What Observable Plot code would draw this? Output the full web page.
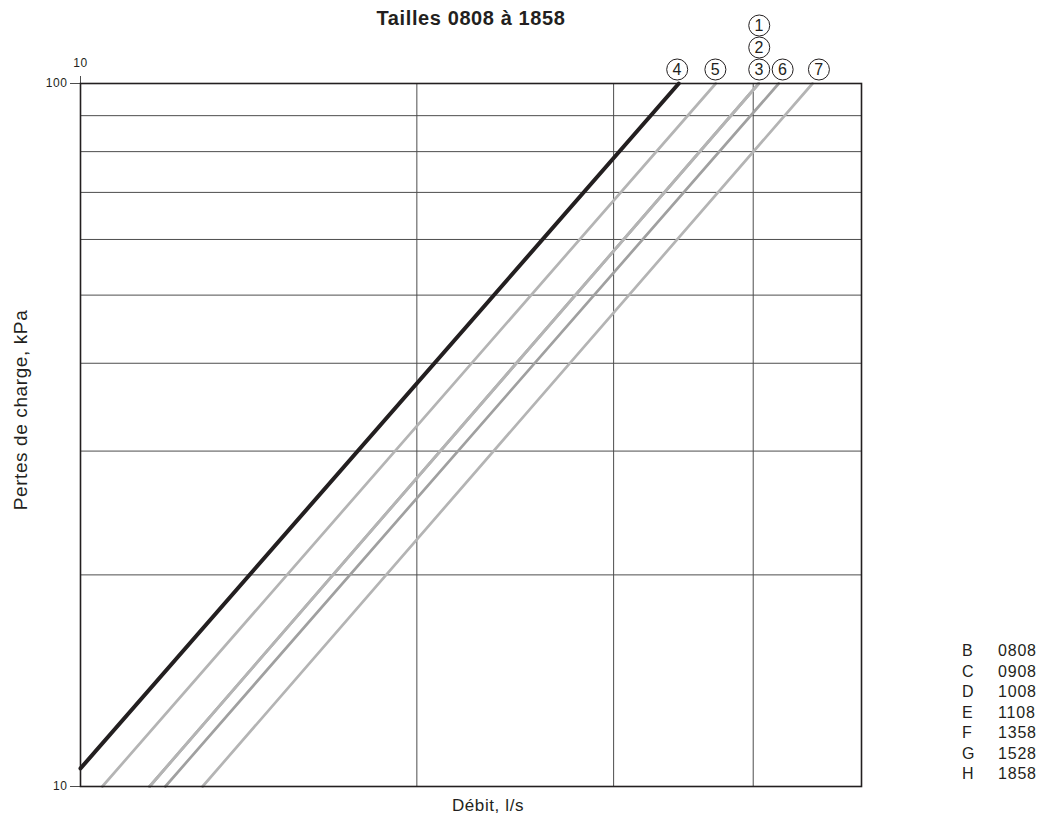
<!DOCTYPE html>
<html>
<head>
<meta charset="utf-8">
<script src="https://cdn.jsdelivr.net/npm/d3@7"></script>
<script src="https://cdn.jsdelivr.net/npm/@observablehq/plot@0.6"></script>
<style>
  html, body { margin: 0; padding: 0; background: #fff; }
  body { width: 1043px; height: 817px; position: relative; overflow: hidden; font-family: "Liberation Sans", Arial, sans-serif; }
  #chart { position: absolute; left: 0; top: 0; }
  #legend { position: absolute; left: 962px; top: 641px; font-size: 16px; letter-spacing: 0.8px; color: #231f20; line-height: 20.5px; }
  #legend .row { display: flex; }
  #legend .k { width: 36px; }
</style>
</head>
<body>
<div id="chart"></div>
<div id="legend"></div>
<script>
// Line identifiers (circled numbers) and endpoints
const lineIds   = ["1", "2", "3", "4", "5", "6", "7"];
const flowLow   = [11.53, 11.53, 11.53, 10.0, 10.46, 11.91, 12.86];
const pressLow  = [10, 10, 10, 10.61, 10, 10, 10];
const flowHigh  = [40.46, 40.46, 40.46, 34.31, 37.03, 42.16, 45.2];
const pressHigh = [100, 100, 100, 100, 100, 100, 100];
const lineColors = ["#b4b4b4", "#b4b4b4", "#b4b4b4", "#231f20", "#b4b4b4", "#a0a0a0", "#b4b4b4"];

// Circled label positions (flow value at top, stacking row)
const labelIds  = ["1", "2", "3", "4", "5", "6", "7"];
const labelFlow = [40.5, 40.5, 40.5, 34.2, 37.0, 42.5, 45.8];
const labelRow  = [2, 1, 0, 0, 0, 0, 0];

// Grid and tick values
const xGrid = [20, 30, 40];
const yGrid = [20, 30, 40, 50, 60, 70, 80, 90];
const yTicks = [10, 100];
const xTicks = [10];

// Legend
const legendKeys  = ["B", "C", "D", "E", "F", "G", "H"];
const legendSizes = ["0808", "0908", "1008", "1108", "1358", "1528", "1858"];

const title = "Tailles 0808 à 1858";
const xLabel = "Débit, l/s";
const yLabel = "Pertes de charge, kPa";

const pts = [];
lineIds.forEach((id, i) => {
  pts.push({id, flow: flowLow[i], press: pressLow[i], color: lineColors[i]});
  pts.push({id, flow: flowHigh[i], press: pressHigh[i], color: lineColors[i]});
});
const grayPts = pts.filter(d => d.id !== "4");
const blackPts = pts.filter(d => d.id === "4");

const labels = labelIds.map((id, i) => ({id, flow: labelFlow[i], row: labelRow[i], press: 100}));
const labelMarks = [];
[0, 1, 2].forEach(r => {
  const data = labels.filter(d => d.row === r);
  const dy = -14 - 22 * r;
  labelMarks.push(Plot.dot(data, {x: "flow", y: "press", r: 10.5, dy, fill: "white", stroke: "#231f20", strokeWidth: 1}));
  labelMarks.push(Plot.text(data, {x: "flow", y: "press", text: "id", dy: dy + 0.5, fontSize: 16, fill: "#231f20"}));
});

const plot = Plot.plot({
  width: 1043,
  height: 817,
  marginTop: 83,
  marginBottom: 31,
  marginLeft: 80,
  marginRight: 182,
  style: {fontFamily: "'Liberation Sans', Arial, sans-serif", background: "white", color: "#231f20", letterSpacing: "0.6px"},
  x: {type: "log", domain: [10, 50]},
  y: {type: "log", domain: [10, 100]},
  marks: [
    Plot.gridX(xGrid, {stroke: "#4d4d4d", strokeOpacity: 1, strokeWidth: 1}),
    Plot.gridY(yGrid, {stroke: "#4d4d4d", strokeOpacity: 1, strokeWidth: 1}),
    Plot.axisY(yTicks, {tickFormat: d => String(d), tickSize: 10, tickPadding: 3, fontSize: 12, label: null, stroke: "#4d4d4d"}),
    Plot.axisX(xTicks, {anchor: "top", tickFormat: d => String(d), tickSize: 8, tickPadding: 9, fontSize: 12, label: null, stroke: "#4d4d4d"}),
    Plot.line(grayPts, {x: "flow", y: "press", z: "id", stroke: "color", strokeWidth: 2.7}),
    Plot.line(blackPts, {x: "flow", y: "press", z: "id", stroke: "color", strokeWidth: 4}),
    Plot.frame({stroke: "#231f20", strokeWidth: 1.6}),
    ...labelMarks,
    Plot.text([title], {text: d => d, frameAnchor: "top", lineAnchor: "middle", dy: -65, fontSize: 20, fontWeight: "bold", fill: "#231f20"}),
    Plot.text([xLabel], {text: d => d, frameAnchor: "bottom", lineAnchor: "middle", textAnchor: "middle", dx: 17, dy: 19, fontSize: 17, fill: "#231f20"}),
    Plot.text([yLabel], {text: d => d, frameAnchor: "left", textAnchor: "middle", lineAnchor: "middle", dx: -60, dy: -25, rotate: -90, fontSize: 19, fill: "#231f20"})
  ]
});
document.getElementById("chart").appendChild(plot);

const legend = document.getElementById("legend");
legendKeys.forEach((k, i) => {
  const row = document.createElement("div");
  row.className = "row";
  row.innerHTML = `<span class="k">${k}</span><span>${legendSizes[i]}</span>`;
  legend.appendChild(row);
});
</script>
</body>
</html>
